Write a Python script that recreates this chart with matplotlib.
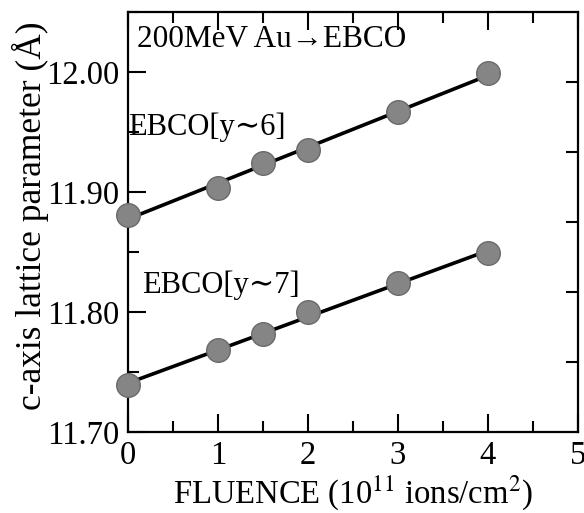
import numpy as np
import matplotlib
matplotlib.use("Agg")
import matplotlib.pyplot as plt
from matplotlib.ticker import MultipleLocator

plt.rcParams['font.family'] = ['Liberation Serif', 'DejaVu Serif']
plt.rcParams['mathtext.fontset'] = 'stix'

# Fluence (1e11 ions/cm^2) and c-axis lattice parameter (Angstrom)
fluence = [0, 1, 1.5, 2, 3, 4]
c_y6 = [11.881, 11.903, 11.924, 11.935, 11.967, 11.999]
c_y7 = [11.739, 11.768, 11.782, 11.800, 11.824, 11.849]

y_ticks = [11.70, 11.80, 11.90, 12.00]
x_ticks = [0, 1, 2, 3, 4, 5]

fig = plt.figure(figsize=(5.84, 5.13), dpi=100)
ax = fig.add_axes([0.2192, 0.1579, 0.7705, 0.8187])

marker_kw = dict(marker='o', ms=17, mfc='#858585', mec='#6a6a6a', mew=1.0,
                 ls='none', clip_on=False, zorder=4)

for ys in (c_y6, c_y7):
    k, b = np.polyfit(fluence, ys, 1)
    xf = np.array([fluence[0], fluence[-1]])
    ax.plot(xf, k * xf + b, color='black', lw=2.6, zorder=3, clip_on=False)
    ax.plot(fluence, ys, **marker_kw)

ax.set_xlim(0, 5)
ax.set_ylim(11.70, 12.05)
ax.set_xticks(x_ticks)
ax.set_xticklabels([str(v) for v in x_ticks])
ax.set_yticks(y_ticks)
ax.set_yticklabels([f"{v:.2f}" for v in y_ticks])
ax.xaxis.set_minor_locator(MultipleLocator(0.5))
ax.yaxis.set_minor_locator(MultipleLocator(0.05))

ax.tick_params(axis='both', which='major', direction='in', length=13, width=1.5,
               labelsize=23.5, top=True, right=False, pad=6)
ax.tick_params(axis='both', which='minor', direction='in', length=8, width=1.5,
               top=True, right=False)
for sp in ax.spines.values():
    sp.set_linewidth(1.6)

# Unlabelled ticks along the right edge
axr = ax.twinx()
axr.set_ylim(0, 6)
axr.set_yticks([1, 2, 3, 4, 5])
axr.tick_params(axis='y', direction='in', length=9, width=1.5, labelright=False)
for sp in axr.spines.values():
    sp.set_visible(False)

ax.set_xlabel(r"FLUENCE (10$^{11}$ ions/cm$^{2}$)", fontsize=23.5, labelpad=2)
ax.set_ylabel("c-axis lattice parameter (Å)", fontsize=25.5)
ax.yaxis.set_label_coords(-0.175, 0.515)

ax.text(0.02, 0.935, "200MeV Au→EBCO", transform=ax.transAxes,
        fontsize=22.5, va='center', ha='left')
ax.text(0.003, 11.954, "EBCO[y∼6]", fontsize=22, va='center', ha='left')
ax.text(0.16, 11.822, "EBCO[y∼7]", fontsize=22, va='center', ha='left')

fig.savefig("out.png", dpi=100)
